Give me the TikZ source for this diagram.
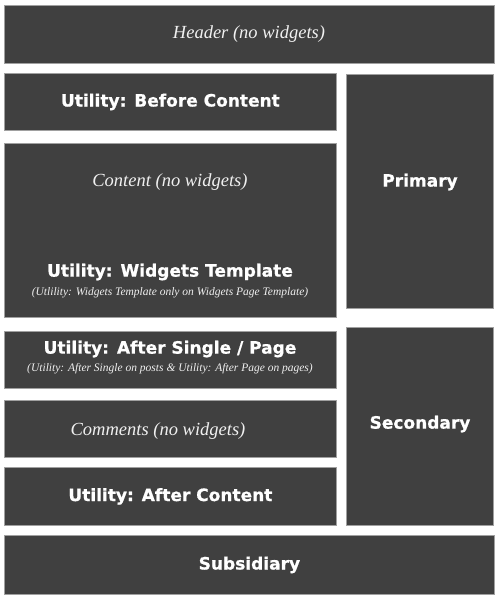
\documentclass[tikz,border=0pt]{standalone}
\usepackage{fontspec}
\newfontfamily\titlefont{DejaVu Sans Bold}[FakeBold=0.8]
\newfontfamily\notefont{Liberation Serif}
\definecolor{boxfill}{HTML}{404040}
\definecolor{boxline}{HTML}{A0A0A0}
\definecolor{italtext}{HTML}{F0F0F0}
\tikzset{
  panel/.style={draw=boxline, line width=0.8pt, fill=boxfill, anchor=north west, inner sep=0pt},
  title/.style={text=white, font=\titlefont\fontsize{17}{19}\selectfont, inner sep=0pt},
  italic/.style={text=italtext, font=\notefont\itshape\fontsize{18.5}{20}\selectfont, inner sep=0pt},
  note/.style={text=italtext, font=\notefont\itshape\fontsize{11.5}{13}\selectfont, inner sep=0pt}
}
\begin{document}
\begin{tikzpicture}[x=1pt,y=-1pt]
\useasboundingbox[fill=white] (0,0) rectangle (500,600);
% panels
\node[panel, minimum width=490pt, minimum height=58pt] (header) at (4,5) {};
\node[panel, minimum width=332pt, minimum height=57pt] (before) at (4,73) {};
\node[panel, minimum width=147pt, minimum height=234pt] (primary) at (346,74) {};
\node[panel, minimum width=332pt, minimum height=174pt] (content) at (4,143) {};
\node[panel, minimum width=332pt, minimum height=57pt] (single) at (4,331) {};
\node[panel, minimum width=147pt, minimum height=198pt] (secondary) at (346,327) {};
\node[panel, minimum width=332pt, minimum height=57pt] (comments) at (4,400) {};
\node[panel, minimum width=332pt, minimum height=58pt] (after) at (4,467) {};
\node[panel, minimum width=490pt, minimum height=59pt] (subsidiary) at (4,535) {};
% labels
\node[italic] (headerlbl) at (249,34) {Header (no widgets)};
\node[title] (beforelbl) at (before.center) {Utility: Before Content};
\node[title] (primarylbl) at (420,182) {Primary};
\node[italic] (contentlbl) at (170,182) {Content (no widgets)};
\node[title] (widgetslbl) at (170,272) {Utility: Widgets Template};
\node[note] (widgetsnote) at (170,293) {(Utlility: Widgets Template only on Widgets Page Template)};
\node[title] (singlelbl) at (170,349) {Utility: After Single / Page};
\node[note] (singlenote) at (170,369) {(Utility: After Single on posts \& Utility: After Page on pages)};
\node[title] (secondarylbl) at (420,424) {Secondary};
\node[italic] (commentslbl) at (158,431) {Comments (no widgets)};
\node[title] (afterlbl) at (after.center) {Utility: After Content};
\node[title] (subsidiarylbl) at (subsidiary.center) {Subsidiary};
\end{tikzpicture}
\end{document}
